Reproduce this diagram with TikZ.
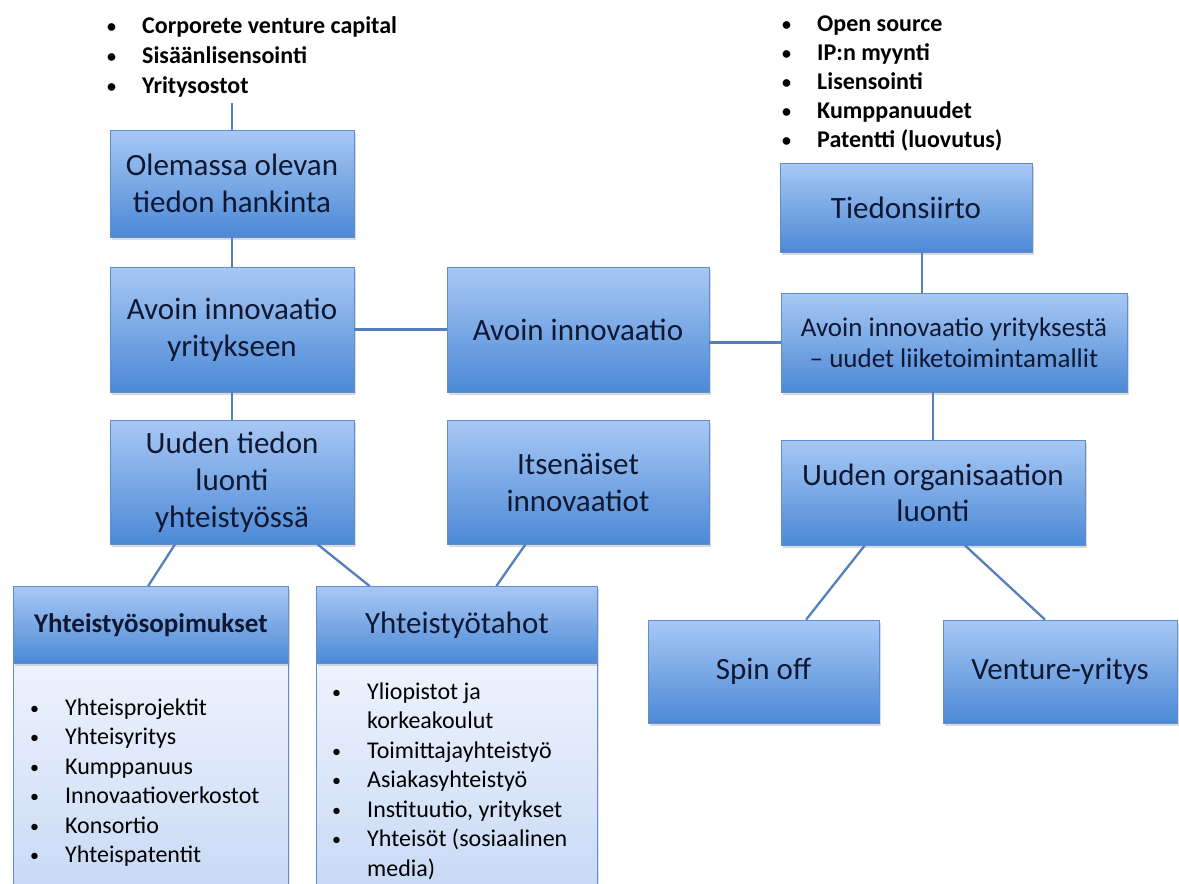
\documentclass[tikz,border=0pt]{standalone}
\usepackage{fontspec}
\usepackage{graphicx}
\setmainfont{Carlito}
\usetikzlibrary{shadows,calc}

\definecolor{boxtop}{RGB}{168,200,244}
\definecolor{boxbot}{RGB}{76,137,214}
\definecolor{boxline}{RGB}{96,142,204}
\definecolor{ink}{RGB}{14,24,50}
\definecolor{linkc}{RGB}{84,128,188}
\definecolor{paletop}{RGB}{238,243,252}
\definecolor{palebot}{RGB}{198,216,245}

\tikzset{
  card/.style={draw=boxline, line width=0.8pt, top color=boxtop, bottom color=boxbot,
    text=ink, align=center, inner sep=0pt,
    font=\fontsize{31}{37}\selectfont,
    drop shadow={opacity=0.28, shadow xshift=1.5pt, shadow yshift=-2.5pt}},
  panel/.style={draw=boxline, line width=0.8pt, top color=paletop, bottom color=palebot,
    inner sep=0pt, anchor=north west,
    drop shadow={opacity=0.2, shadow xshift=1.5pt, shadow yshift=-2pt}},
  linkline/.style={draw=linkc, line width=2.3pt},
  toplist/.style={align=left, inner sep=0pt, anchor=base west, text=black,
    font=\fontsize{24}{30}\selectfont\bfseries},
  bodylist/.style={align=left, inner sep=0pt, anchor=base west, text=black,
    font=\fontsize{24}{29.5}\selectfont},
}
% list item: a small bullet followed by the text at a fixed indent
\newcommand{\itm}[1]{\makebox[35pt][l]{\raisebox{1pt}{\scalebox{0.75}{\textbullet}}}#1}

\begin{document}
\begin{tikzpicture}[x=1pt,y=-1pt]
\clip (0,0) rectangle (1179,884);
\fill[white] (0,0) rectangle (1179,884);

% bullet lists above the two top boxes (anchored at the last baseline)
\node[toplist] (inlist) at (107,93)
  {\itm{Corporete venture capital}\\ \itm{Sisäänlisensointi}\\ \itm{Yritysostot}};
\node[toplist, font=\fontsize{24}{29}\selectfont\bfseries] (outlist) at (782,147)
  {\itm{Open source}\\ \itm{IP:n myynti}\\ \itm{Lisensointi}\\ \itm{Kumppanuudet}\\ \itm{Patentti (luovutus)}};
\coordinate (inend) at (232,103);

% left column
\node[card, minimum width=244, minimum height=107] (hank) at (232,183.5)
  {Olemassa olevan\\tiedon hankinta};
\node[card, minimum width=244, minimum height=125] (yrin) at (232,329.5)
  {Avoin innovaatio\\yritykseen};
\node[card, minimum width=244, minimum height=124] (luonti) at (232,482)
  {Uuden tiedon\\luonti\\yhteistyössä};

% middle column
\node[card, minimum width=262, minimum height=125] (avoin) at (578,329.5)
  {Avoin innovaatio};
\node[card, minimum width=262, minimum height=124] (itse) at (578,482)
  {Itsenäiset\\innovaatiot};

% right column
\node[card, minimum width=252, minimum height=89] (siirto) at (906,207.5)
  {Tiedonsiirto};
\node[card, minimum width=346, minimum height=99, font=\fontsize{27}{31}\selectfont] (yrista) at (954,342.5)
  {Avoin innovaatio yrityksestä\\– uudet liiketoimintamallit};
\node[card, minimum width=304, minimum height=105, font=\fontsize{31}{36}\selectfont] (org) at (933,492.5)
  {Uuden organisaation\\luonti};
\node[card, minimum width=231, minimum height=103] (spin) at (763.5,671.5)
  {Spin off};
\node[card, minimum width=234, minimum height=103] (vent) at (1060,671.5)
  {Venture-yritys};

% two list panels at the bottom
\node[panel, minimum width=275, minimum height=240] (sopB) at (13,663) {};
\node[panel, minimum width=281, minimum height=240] (tahB) at (316,663) {};
\node[card, minimum width=275, minimum height=77, anchor=north west,
      font=\fontsize{27}{32}\selectfont\bfseries] (sopH) at (13,586) {Yhteistyösopimukset};
\node[card, minimum width=281, minimum height=77, anchor=north west] (tahH) at (316,586)
  {Yhteistyötahot};
\node[bodylist] (sopL) at (30,862.5)
  {\itm{Yhteisprojektit}\\ \itm{Yhteisyritys}\\ \itm{Kumppanuus}\\
   \itm{Innovaatioverkostot}\\ \itm{Konsortio}\\ \itm{Yhteispatentit}};
\node[bodylist] (tahL) at (332,876)
  {\itm{Yliopistot ja}\\ \hspace*{35pt}korkeakoulut\\ \itm{Toimittajayhteistyö}\\
   \itm{Asiakasyhteistyö}\\ \itm{Instituutio, yritykset}\\
   \itm{Yhteisöt (sosiaalinen}\\ \hspace*{35pt}media)};

% connectors
\draw[linkline] (inend) -- (hank.north);
\draw[linkline] (hank.south) -- (yrin.north);
\draw[linkline] (yrin.south) -- (luonti.north);
\draw[linkline] (yrin.east) -- (avoin.west);
\draw[linkline] (yrista.west -| avoin.east) -- (yrista.west);
\draw[linkline] ($(siirto.south west)!0.563!(siirto.south east)$) coordinate (s1)
  -- (s1 |- yrista.north);
\draw[linkline] (org.north |- yrista.south) -- (org.north);
\draw[linkline] ($(luonti.south west)!0.267!(luonti.south east)$)
  -- ($(sopH.north west)!0.49!(sopH.north east)$);
\draw[linkline] ($(luonti.south west)!0.85!(luonti.south east)$)
  -- ($(tahH.north west)!0.19!(tahH.north east)$);
\draw[linkline] ($(itse.south west)!0.30!(itse.south east)$)
  -- ($(tahH.north west)!0.64!(tahH.north east)$);
\draw[linkline] ($(org.south west)!0.276!(org.south east)$)
  -- ($(spin.north west)!0.684!(spin.north east)$);
\draw[linkline] ($(org.south west)!0.605!(org.south east)$)
  -- ($(vent.north west)!0.436!(vent.north east)$);
\end{tikzpicture}
\end{document}
